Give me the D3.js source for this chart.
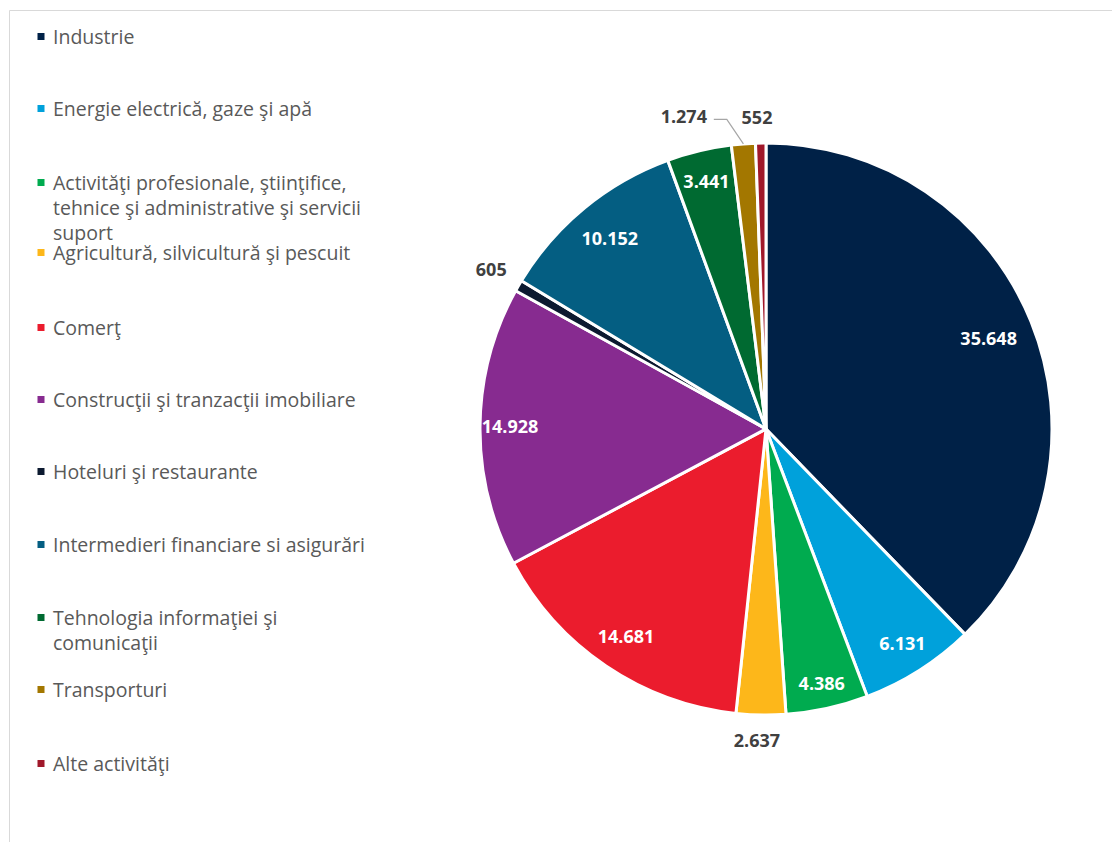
<!DOCTYPE html>
<html>
<head>
<meta charset="utf-8">
<script src="https://cdn.jsdelivr.net/npm/d3@7"></script>
<style>
  html, body { margin: 0; padding: 0; background: #fff; }
  svg { display: block; }
</style>
</head>
<body>
<svg id="chart" width="1112" height="842"></svg>
<script>
// ---- Data ----
const categories = [
  "Industrie",
  "Energie electrică, gaze şi apă",
  "Activităţi profesionale, ştiinţifice, tehnice şi administrative şi servicii suport",
  "Agricultură, silvicultură şi pescuit",
  "Comerţ",
  "Construcţii şi tranzacţii imobiliare",
  "Hoteluri şi restaurante",
  "Intermedieri financiare si asigurări",
  "Tehnologia informaţiei şi comunicaţii",
  "Transporturi",
  "Alte activităţi"
];
const values = [35648, 6131, 4386, 2637, 14681, 14928, 605, 10152, 3441, 1274, 552];
const valueLabels = ["35.648", "6.131", "4.386", "2.637", "14.681", "14.928", "605", "10.152", "3.441", "1.274", "552"];
const legendLines = [
  ["Industrie"],
  ["Energie electrică, gaze şi apă"],
  ["Activităţi profesionale, ştiinţifice,", "tehnice şi administrative şi servicii", "suport"],
  ["Agricultură, silvicultură şi pescuit"],
  ["Comerţ"],
  ["Construcţii şi tranzacţii imobiliare"],
  ["Hoteluri şi restaurante"],
  ["Intermedieri financiare si asigurări"],
  ["Tehnologia informaţiei şi", "comunicaţii"],
  ["Transporturi"],
  ["Alte activităţi"]
];

// ---- Style ----
const colors = ["#002147", "#00A1DB", "#00AB4F", "#FDB71A", "#EB1C2D", "#872B90", "#0C1A30", "#045E82", "#006A31", "#A37700", "#A0182A"];
// label placement: [radius factor, angle offset (deg), inside?]
const labelPlace = [
  [0.84, 0, true], [0.89, 0, true], [0.91, 0, true], [1.09, 0.65, false],
  [0.875, 0, true], [0.895, 0, true], [1.11, 0, false], [0.86, 0, true],
  [0.89, 0, true], [1.13, -10.2, false], [1.09, -0.6, false]
];
const legendBaselines = [44, 116, 190, 260, 335, 407, 479, 552, 625, 697, 771];

const svg = d3.select("#chart");
const font = "'Open Sans', 'Noto Sans', sans-serif";

// frame
svg.append("path")
  .attr("d", "M9.5,842 L9.5,10.5 L1112,10.5")
  .attr("fill", "none").attr("stroke", "#d9d9d9").attr("stroke-width", 1);

// ---- Pie ----
const cx = 766, cy = 429, R = 286;
const g = svg.append("g").attr("transform", `translate(${cx},${cy})`);
const pie = d3.pie().sort(null).value(d => d)(values);
const arc = d3.arc().innerRadius(0).outerRadius(R);

g.selectAll("path.slice").data(pie).join("path")
  .attr("class", "slice")
  .attr("d", arc)
  .attr("fill", (d, i) => colors[i])
  .attr("stroke", "#fff").attr("stroke-width", 3).attr("stroke-linejoin", "round");

function labelPos(d, i) {
  const [f, off] = labelPlace[i];
  const a = (d.startAngle + d.endAngle) / 2 + off * Math.PI / 180;
  return [Math.sin(a) * R * f, -Math.cos(a) * R * f];
}

// leader line for Transporturi
pie.forEach((d, i) => {
  if (i === 9) {
    const [lx, ly] = labelPos(d, i);
    const a = (d.startAngle + d.endAngle) / 2;
    const ex = Math.sin(a) * R, ey = -Math.cos(a) * R;
    g.append("polyline")
      .attr("points", `${lx + 30},${ly + 3} ${lx + 43},${ly + 3} ${ex},${ey}`)
      .attr("fill", "none").attr("stroke", "#a6a6a6").attr("stroke-width", 1.2);
  }
});

g.selectAll("text.val").data(pie).join("text")
  .attr("class", "val")
  .attr("x", (d, i) => labelPos(d, i)[0])
  .attr("y", (d, i) => labelPos(d, i)[1])
  .attr("dy", "0.35em")
  .attr("text-anchor", "middle")
  .attr("font-family", font).attr("font-weight", "bold").attr("font-size", "18px")
  .attr("fill", (d, i) => labelPlace[i][2] ? "#fff" : "#404040")
  .text((d, i) => valueLabels[i]);

// ---- Legend ----
const lg = svg.append("g");
categories.forEach((c, i) => {
  const by = legendBaselines[i];
  lg.append("rect")
    .attr("x", 37.5).attr("y", by - 11).attr("width", 7).attr("height", 7)
    .attr("fill", colors[i]);
  const t = lg.append("text")
    .attr("x", 53).attr("y", by)
    .attr("font-family", font).attr("font-size", "19.5px").attr("fill", "#595959");
  legendLines[i].forEach((ln, j) => {
    t.append("tspan").attr("x", 53).attr("y", by + j * 25).text(ln);
  });
});
</script>
</body>
</html>
